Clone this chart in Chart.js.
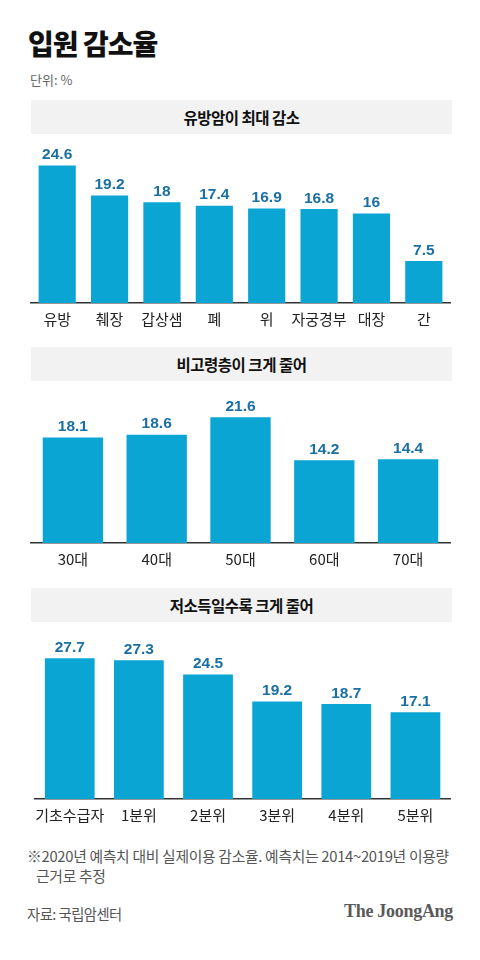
<!DOCTYPE html>
<html>
<head>
<meta charset="utf-8">
<script src="https://cdn.jsdelivr.net/npm/chart.js@4"></script>
<style>
  body { margin: 0; width: 480px; height: 960px; background: #fff; position: relative; overflow: hidden;
         font-family: "Noto Sans CJK KR", "Noto Sans", sans-serif; }
  .abs { position: absolute; }
  .title { left: 28px; top: 23px; font-size: 28px; font-weight: 900; color: #111; letter-spacing: -1px; }
  .unit { left: 30px; top: 70px; font-size: 13px; color: #666; }
  .head { left: 31px; width: 421px; height: 34px; background: #f2f2f2; text-align: center;
          font-size: 15.5px; font-weight: 700; color: #111; line-height: 34px; letter-spacing: -0.5px; }
  .note { left: 27px; top: 846px; font-size: 14.8px; color: #555; line-height: 20px; letter-spacing: -0.3px; white-space: nowrap; }
  .src { left: 27px; top: 903px; font-size: 14.3px; color: #555; letter-spacing: -0.5px; }
  .logo { right: 27px; top: 901px; font-family: "Liberation Serif", "DejaVu Serif", serif; font-weight: 700;
          font-size: 18px; color: #5a5a5a; letter-spacing: -0.3px; }
</style>
</head>
<body>
<div class="abs title">입원 감소율</div>
<div class="abs unit">단위: %</div>

<div class="abs head" style="top:100px">유방암이 최대 감소</div>
<div class="abs head" style="top:347px">비고령층이 크게 줄어</div>
<div class="abs head" style="top:588px">저소득일수록 크게 줄어</div>

<div style="position:absolute;left:28px;top:143px;width:425px;height:192px"><canvas id="c1"></canvas></div>
<div style="position:absolute;left:28px;top:398px;width:425px;height:177px"><canvas id="c2"></canvas></div>
<div style="position:absolute;left:28px;top:637px;width:425px;height:194px"><canvas id="c3"></canvas></div>

<div class="abs note">※2020년 예측치 대비 실제이용 감소율. 예측치는 2014~2019년 이용량<br>&nbsp;&nbsp;&nbsp;근거로 추정</div>
<div class="abs src">자료: 국립암센터</div>
<div class="abs logo">The JoongAng</div>

<script>
const cancerLabels = ['유방', '췌장', '갑상샘', '폐', '위', '자궁경부', '대장', '간'];
const cancerValues = [24.6, 19.2, 18, 17.4, 16.9, 16.8, 16, 7.5];

const ageLabels = ['30대', '40대', '50대', '60대', '70대'];
const ageValues = [18.1, 18.6, 21.6, 14.2, 14.4];

const incomeLabels = ['기초수급자', '1분위', '2분위', '3분위', '4분위', '5분위'];
const incomeValues = [27.7, 27.3, 24.5, 19.2, 18.7, 17.1];

const BAR = '#0aa5d3';
const VALUE = '#1a6fa3';

// draws the number above each bar
const valueLabels = {
  id: 'valueLabels',
  afterDatasetsDraw(chart) {
    const ctx = chart.ctx;
    const meta = chart.getDatasetMeta(0);
    ctx.save();
    ctx.font = 'bold 15.5px "Liberation Sans", Arial, sans-serif';
    ctx.fillStyle = VALUE;
    ctx.textAlign = 'center';
    ctx.textBaseline = 'bottom';
    meta.data.forEach((bar, i) => {
      ctx.fillText(String(chart.data.datasets[0].data[i]), bar.x, bar.y - 3);
    });
    ctx.restore();
  }
};

function makeChart(id, labels, values, max, barPct) {
  const ctx = document.getElementById(id).getContext('2d');
  return new Chart(ctx, {
    type: 'bar',
    data: {
      labels: labels,
      datasets: [{
        data: values,
        backgroundColor: BAR,
        borderWidth: 0,
        barPercentage: barPct,
        categoryPercentage: 1
      }]
    },
    options: {
      responsive: true,
      maintainAspectRatio: false,
      animation: false,
      layout: { padding: { left: 3, right: 3, top: 0, bottom: 0 } },
      plugins: { legend: { display: false }, tooltip: { enabled: false } },
      scales: {
        x: {
          grid: { display: false, drawTicks: false },
          border: { display: true, color: '#333', width: 1.5 },
          ticks: {
            color: '#222',
            padding: 7,
            autoSkip: false,
            maxRotation: 0,
            font: { family: '"Noto Sans CJK KR", sans-serif', size: 15 }
          }
        },
        y: { display: false, min: 0, max: max }
      }
    },
    plugins: [valueLabels]
  });
}

makeChart('c1', cancerLabels, cancerValues, 28.6, 0.71);
makeChart('c2', ageLabels, ageValues, 24.9, 0.72);
makeChart('c3', incomeLabels, incomeValues, 31.9, 0.72);
</script>
</body>
</html>
